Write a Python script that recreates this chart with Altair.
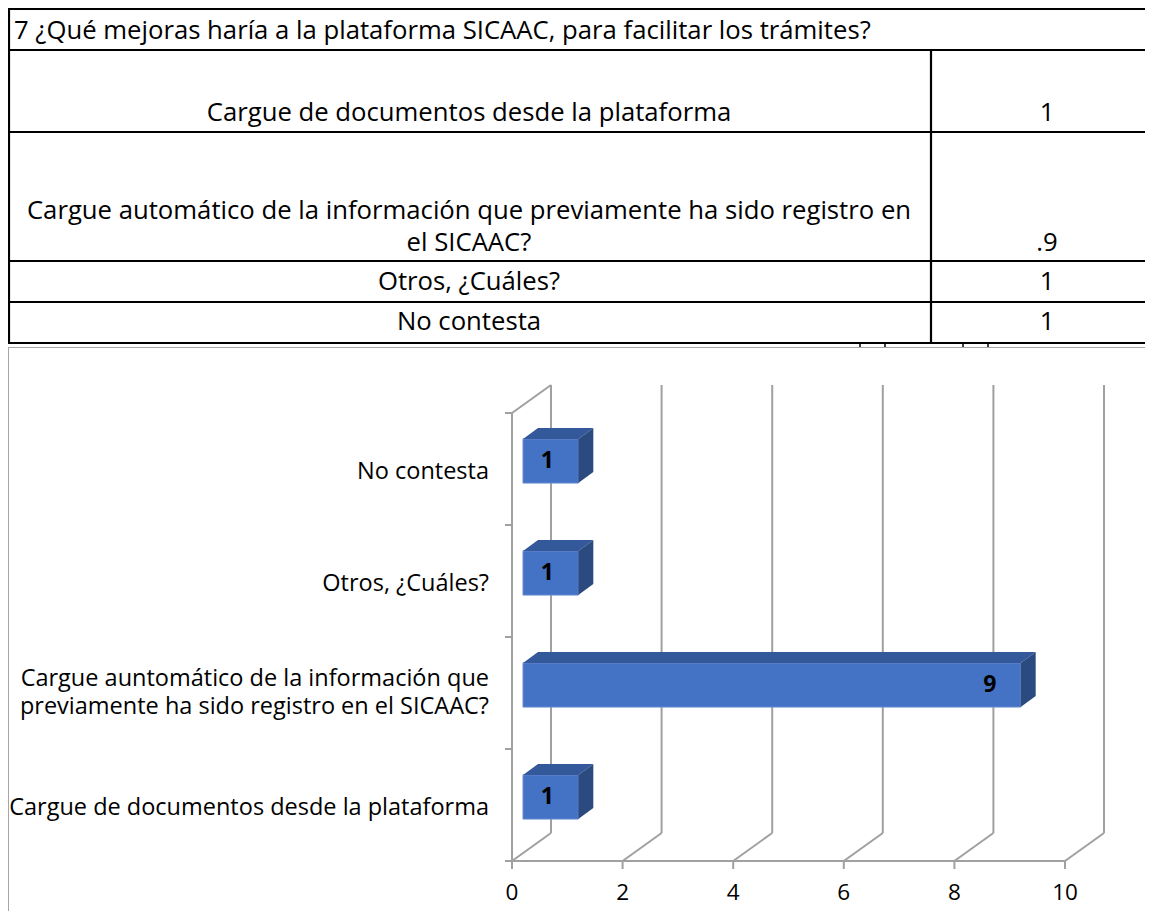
import altair as alt
import pandas as pd

# ---------------- data ----------------
title_text = "7 ¿Qué mejoras haría a la plataforma SICAAC, para facilitar los trámites?"
table_labels = [
    "Cargue de documentos desde la plataforma",
    "Cargue automático de la información que previamente ha sido registro en\nel SICAAC?",
    "Otros, ¿Cuáles?",
    "No contesta",
]
table_values = ["1", ".9", "1", "1"]

categories = [
    "Cargue de documentos desde la plataforma",
    "Cargue auntomático de la información que\npreviamente ha sido registro en el SICAAC?",
    "Otros, ¿Cuáles?",
    "No contesta",
]
counts = [1, 9, 1, 1]
x_ticks = [0, 2, 4, 6, 8, 10]

# ---------------- layout / style ----------------
W, H = 1137, 903
FONT = "Open Sans"
GRID = "#A0A0A0"
FRONT = "#4472C4"
TOPC = "#34599B"
SIDE = "#2B4A7F"

TX = alt.Scale(domain=[0, W], range=[0, W], nice=False, zero=False)
TY = alt.Scale(domain=[0, H], range=[0, H], nice=False, zero=False)

XS = alt.Scale(domain=[0, 10], range=[504, 1057], nice=False, zero=False)
YS = alt.Scale(domain=[0, 4], range=[853, 405], nice=False, zero=False)
PXU = (1057 - 504) / 10.0
PYU = (853 - 405) / 4.0
BACK_DX, BACK_DY = 39, -28
S = 11 / PXU        # bar plane shift x
T = 8 / PYU         # bar plane shift y
DX = 15 / PXU       # bar depth x
DY = 11 / PYU       # bar depth y
HB = 0.197          # half bar height

# ---------------- table group ----------------
row_lines = [1, 42, 124, 253, 294, 335]
hl = pd.DataFrame({"y": row_lines, "x0": 0, "x1": W})
t_h = alt.Chart(hl).mark_rule(color="black", strokeWidth=2.2).encode(
    x=alt.X("x0:Q", scale=TX, axis=None), x2="x1:Q",
    y=alt.Y("y:Q", scale=TY, axis=None), y2="y:Q")
vl = pd.DataFrame({"x": [1, 923], "y0": [0, 42], "y1": [336, 336]})
t_v = alt.Chart(vl).mark_rule(color="black", strokeWidth=2.2).encode(
    x=alt.X("x:Q", scale=TX, axis=None), x2="x:Q",
    y=alt.Y("y0:Q", scale=TY, axis=None), y2="y1:Q")
st = pd.DataFrame({"x": [852, 877, 955, 980], "y0": 335, "y1": 339})
t_s = alt.Chart(st).mark_rule(color="black", strokeWidth=1.5).encode(
    x=alt.X("x:Q", scale=TX, axis=None), x2="x:Q",
    y=alt.Y("y0:Q", scale=TY, axis=None), y2="y1:Q")
fr = pd.DataFrame({"x0": [0, 0.5], "x1": [W, 0.5], "y0": [339.5, 339.5], "y1": [339.5, H]})
t_f = alt.Chart(fr).mark_rule(color="#A6A6A6", strokeWidth=1).encode(
    x=alt.X("x0:Q", scale=TX, axis=None), x2="x1:Q",
    y=alt.Y("y0:Q", scale=TY, axis=None), y2="y1:Q")

tt = pd.DataFrame({"t": [title_text], "x": [6], "y": [22.5]})
t_title = alt.Chart(tt).mark_text(align="left", baseline="middle", font=FONT,
                                  fontSize=25.7, color="black").encode(
    x=alt.X("x:Q", scale=TX, axis=None), y=alt.Y("y:Q", scale=TY, axis=None), text="t:N")

label_y = [105, 203, 274, 314]
value_y = [105, 235, 274, 314]
tr = pd.DataFrame({"label": table_labels, "value": table_values,
                   "ly": label_y, "vy": value_y, "lx": 461, "vx": 1039})
t_lab = alt.Chart(tr).mark_text(align="center", baseline="middle", font=FONT,
                                fontSize=25.7, color="black", lineBreak="\n",
                                lineHeight=32).encode(
    x=alt.X("lx:Q", scale=TX, axis=None), y=alt.Y("ly:Q", scale=TY, axis=None), text="label:N")
t_val = alt.Chart(tr).mark_text(align="center", baseline="middle", font=FONT,
                                fontSize=25.7, color="black").encode(
    x=alt.X("vx:Q", scale=TX, axis=None), y=alt.Y("vy:Q", scale=TY, axis=None), text="value:N")

table_group = alt.layer(t_h, t_v, t_s, t_f, t_title, t_lab, t_val)

# ---------------- 3D bar chart group ----------------
tk = pd.DataFrame({"t": x_ticks, "lo": 0, "hi": 4})
back = alt.Chart(tk).mark_rule(color=GRID, strokeWidth=2, xOffset=BACK_DX, x2Offset=BACK_DX,
                               yOffset=BACK_DY, y2Offset=BACK_DY).encode(
    x=alt.X("t:Q", scale=XS, axis=None), x2="t:Q",
    y=alt.Y("lo:Q", scale=YS, axis=None), y2="hi:Q")
floor_diag = alt.Chart(tk).mark_rule(color=GRID, strokeWidth=2, x2Offset=BACK_DX,
                                     y2Offset=BACK_DY).encode(
    x=alt.X("t:Q", scale=XS, axis=None), x2="t:Q",
    y=alt.Y("lo:Q", scale=YS, axis=None), y2="lo:Q")
xtick = alt.Chart(tk).mark_rule(color=GRID, strokeWidth=2, y2Offset=8).encode(
    x=alt.X("t:Q", scale=XS, axis=None), x2="t:Q",
    y=alt.Y("lo:Q", scale=YS, axis=None), y2="lo:Q")

frame = pd.DataFrame({"x0": [0, 0], "x1": [10, 0], "y0": [0, 0], "y1": [0, 4]})
front_lines = alt.Chart(frame).mark_rule(color=GRID, strokeWidth=2).encode(
    x=alt.X("x0:Q", scale=XS, axis=None), x2="x1:Q",
    y=alt.Y("y0:Q", scale=YS, axis=None), y2="y1:Q")
topdiag = alt.Chart(pd.DataFrame({"x": [0], "y": [4]})).mark_rule(
    color=GRID, strokeWidth=2, x2Offset=BACK_DX, y2Offset=BACK_DY).encode(
    x=alt.X("x:Q", scale=XS, axis=None), x2="x:Q",
    y=alt.Y("y:Q", scale=YS, axis=None), y2="y:Q")
ytk = pd.DataFrame({"y": [0, 1, 2, 3, 4], "x": 0})
ytick = alt.Chart(ytk).mark_rule(color=GRID, strokeWidth=2, xOffset=-7).encode(
    x=alt.X("x:Q", scale=XS, axis=None), x2="x:Q",
    y=alt.Y("y:Q", scale=YS, axis=None), y2="y:Q")

bars = pd.DataFrame({"cat": categories, "v": counts})
bars["c"] = [i + 0.5 for i in range(len(categories))]
bars["x0"] = S
bars["x1"] = bars["v"] + S
bars["yb"] = bars["c"] - HB + T
bars["yt"] = bars["c"] + HB + T
bars["lx"] = bars["x1"] - 0.56
bars["ly"] = bars["c"] + T
nlines = bars["cat"].str.count("\n")
bars["cy"] = bars["c"] + nlines * 17 / PYU

top_rows, side_rows = [], []
for r in bars.to_dict("records"):
    top_rows.append({"cat": r["cat"], "y": r["yt"], "xl": r["x0"], "xr": r["x1"]})
    top_rows.append({"cat": r["cat"], "y": r["yt"] + DY, "xl": r["x0"] + DX, "xr": r["x1"] + DX})
    side_rows.append({"cat": r["cat"], "x": r["x1"], "ylo": r["yb"], "yhi": r["yt"]})
    side_rows.append({"cat": r["cat"], "x": r["x1"] + DX, "ylo": r["yb"] + DY, "yhi": r["yt"] + DY})
top_df = pd.DataFrame(top_rows)
side_df = pd.DataFrame(side_rows)

front = alt.Chart(bars).mark_rect(color=FRONT, stroke="#6A8CD0", strokeWidth=1).encode(
    x=alt.X("x0:Q", scale=XS, axis=None), x2="x1:Q",
    y=alt.Y("yb:Q", scale=YS, axis=None), y2="yt:Q")
topface = alt.Chart(top_df).mark_area(orient="horizontal", color=TOPC).encode(
    y=alt.Y("y:Q", scale=YS, axis=None, stack=None),
    x=alt.X("xl:Q", scale=XS, axis=None, stack=None), x2="xr:Q",
    detail="cat:N")
sideface = alt.Chart(side_df).mark_area(orient="vertical", color=SIDE).encode(
    x=alt.X("x:Q", scale=XS, axis=None, stack=None),
    y=alt.Y("ylo:Q", scale=YS, axis=None, stack=None), y2="yhi:Q",
    detail="cat:N")
vals = alt.Chart(bars).mark_text(font=FONT, fontSize=23, fontWeight="bold", color="black",
                                 baseline="middle", align="center").encode(
    x=alt.X("lx:Q", scale=XS, axis=None), y=alt.Y("ly:Q", scale=YS, axis=None),
    text=alt.Text("v:Q", format="d"))
cat_labels = alt.Chart(bars).mark_text(font=FONT, fontSize=23.5, color="black", align="right",
                                       baseline="middle", lineBreak="\n", lineHeight=28,
                                       dy=3).encode(
    x=alt.value(481), y=alt.Y("cy:Q", scale=YS, axis=None), text="cat:N")
xlabels = alt.Chart(tk).mark_text(font=FONT, fontSize=22.5, color="black", align="center",
                                  baseline="middle").encode(
    x=alt.X("t:Q", scale=XS, axis=None), y=alt.value(885), text=alt.Text("t:Q", format="d"))

chart_group = alt.layer(back, floor_diag, xtick, front_lines, topdiag, ytick,
                        front, topface, sideface, vals, cat_labels, xlabels)

chart = alt.layer(table_group, chart_group).resolve_scale(
    x="independent", y="independent"
).properties(
    width=W, height=H, padding=0, autosize="none", background="white"
).configure_view(stroke=None)

chart.save("out.html", embed_options={"renderer": "svg", "actions": False})
